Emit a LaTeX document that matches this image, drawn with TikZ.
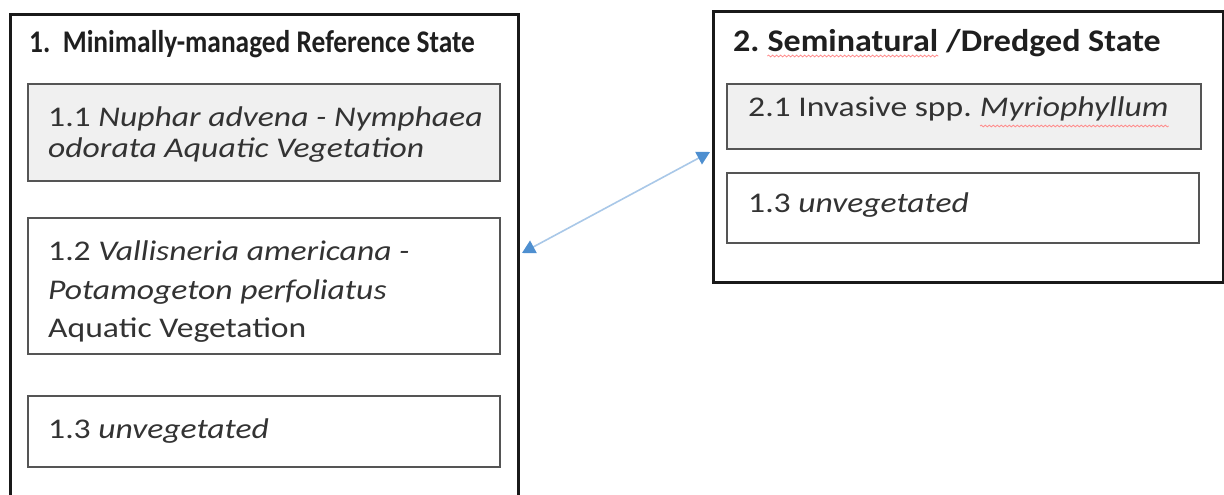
\documentclass[tikz,border=0pt]{standalone}
\usepackage{fontspec}
\setmainfont{Carlito}
\newfontfamily\bodyfont[FakeStretch=1.18]{Carlito}
\newfontfamily\headfont[FakeStretch=1.08]{Carlito}
\newfontfamily\headfontnarrow[FakeStretch=0.87]{Carlito}
\usetikzlibrary{arrows.meta,calc,decorations.pathmorphing}
\definecolor{boxgray}{HTML}{555555}
\definecolor{fillgray}{HTML}{F0F0F0}
\definecolor{linkline}{HTML}{A9C8E8}
\definecolor{linktip}{HTML}{4E8FD0}
\tikzset{
  statebox/.style={draw=black!90, line width=3pt, inner sep=0pt, anchor=north west},
  phasebox/.style={draw=boxgray, line width=2.4pt, inner sep=0pt, anchor=north west},
  shaded/.style={fill=fillgray},
  titletext/.style={inner sep=0pt, anchor=base west, font=\headfont\fontsize{31.5}{37}\selectfont\bfseries, text=black!88},
  titlenarrow/.style={titletext, font=\headfontnarrow\fontsize{31.5}{37}\selectfont\bfseries},
  bodytext/.style={inner sep=0pt, anchor=base west, font=\bodyfont\fontsize{28.5}{34}\selectfont, text=black!80},
  spellmark/.style={draw=red!45, line width=0.8pt, decorate,
    decoration={snake, segment length=4pt, amplitude=0.9pt}},
  link/.style={draw=linkline, line width=1.6pt,
    {Triangle[length=13pt,width=14pt,color=linktip]}-{Triangle[length=13pt,width=14pt,color=linktip]}}
}
\begin{document}
\begin{tikzpicture}[x=1pt,y=-1pt]
\useasboundingbox (0,0) rectangle (1224,495);
\clip (0,0) rectangle (1224,495);
\fill[white] (0,0) rectangle (1224,495);

% state 1 (runs past the lower edge)
\node[statebox, minimum width=508pt, minimum height=520pt] (s1) at (9,13) {};
\node[titlenarrow] (t1) at (29,53) {1.\ \ Minimally-managed Reference State};

\node[phasebox, shaded, minimum width=472pt, minimum height=97pt] (p11) at (27,83) {};
\node[bodytext] (p11a) at (48,126) {1.1 \textit{Nuphar advena - Nymphaea}};
\node[bodytext] (p11b) at (48,157) {\textit{odorata Aquatic Vegetation}};

\node[phasebox, minimum width=472pt, minimum height=136pt] (p12) at (27,217) {};
\node[bodytext] (p12a) at (48,260) {1.2 \textit{Vallisneria americana -}};
\node[bodytext] (p12b) at (48,299) {\textit{Potamogeton perfoliatus}};
\node[bodytext] (p12c) at (48,337) {Aquatic Vegetation};

\node[phasebox, minimum width=472pt, minimum height=71pt] (p13) at (27,395) {};
\node[bodytext] (p13a) at (48,438) {1.3 \textit{unvegetated}};

% state 2
\node[statebox, minimum width=510pt, minimum height=271pt] (s2) at (712,10) {};
\node[titletext] (t2a) at (733,52) {2.\ \ };
\node[titletext] (t2b) at (t2a.base east) {Seminatural};
\node[titletext] (t2c) at (t2b.base east) {\ /Dredged State};
\draw[spellmark] ($(t2b.base west)+(0,4)$) -- ($(t2b.base east)+(0,4)$);

\node[phasebox, shaded, minimum width=474pt, minimum height=65pt] (p21) at (726,83) {};
\node[bodytext] (p21a) at (748,117) {2.1 Invasive spp.};
\node[bodytext] (p21b) at (p21a.base east) {\ \textit{Myriophyllum}};
\draw[spellmark] ($(p21b.base west)+(8,9)$) -- ($(p21b.base east)+(0,9)$);

\node[phasebox, minimum width=472pt, minimum height=70pt] (p22) at (726,172) {};
\node[bodytext] (p22a) at (748,212) {1.3 \textit{unvegetated}};

% transition between the two states
\coordinate (e1) at ($(s1.north east)+(2,240)$);
\coordinate (e2) at ($(s2.north west)+(-2,142)$);
\draw[link] (e1) -- (e2);
\end{tikzpicture}
\end{document}
